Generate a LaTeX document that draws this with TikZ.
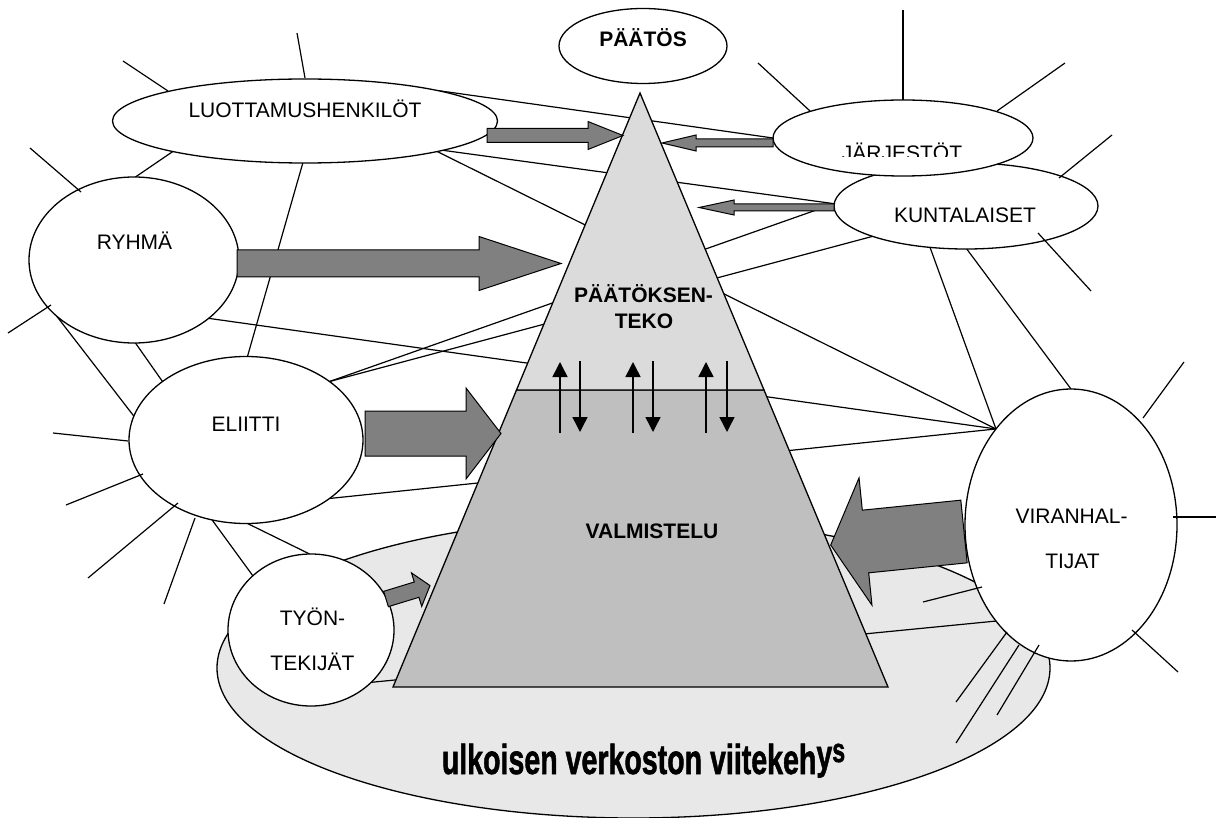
\documentclass[tikz,border=0pt]{standalone}
\usepackage{fontspec}
\setmainfont{Liberation Sans}
\newfontfamily\framefont{Liberation Sans}[BoldFeatures={FakeBold=1.5}]
\usetikzlibrary{shapes.geometric,arrows.meta}
\definecolor{groundgray}{gray}{0.91}
\definecolor{pyrlight}{gray}{0.86}
\definecolor{pyrdark}{gray}{0.75}
\definecolor{arrowgray}{gray}{0.5}
\pgfdeclarelayer{ground}
\pgfdeclarelayer{links}
\pgfdeclarelayer{pyramid}
\pgfsetlayers{ground,links,pyramid,main}

% block arrow: start point, direction angle, total length,
% half shaft width, half head width, head length
\newcommand\flowarrow[6]{%
  \draw[flowarr, shift={#1}, rotate=#2]
    (0,-#4) -- ({#3-#6},-#4) -- ({#3-#6},-#5) -- (#3,0)
    -- ({#3-#6},#5) -- ({#3-#6},#4) -- (0,#4) -- cycle;}

\begin{document}
\begin{tikzpicture}[x=1pt,y=-1pt,
  blob/.style={ellipse,draw,fill=white,line width=1.3pt,inner sep=0pt,outer sep=0pt},
  lbl/.style={font=\fontsize{21}{25}\selectfont,inner sep=0pt,anchor=base},
  lblb/.style={font=\fontsize{21}{25}\selectfont\bfseries,inner sep=0pt,anchor=base},
  link/.style={line width=1.2pt},
  spoke/.style={line width=1.2pt},
  flowarr/.style={draw=black,fill=arrowgray,line width=1pt,line join=miter},
  updown/.style={line width=1.5pt,-{Triangle[width=15pt,length=15pt]}},
]
\useasboundingbox (0,0) rectangle (1218,818);

% the outer network frame
\begin{pgfonlayer}{ground}
  \node[blob, fill=groundgray, minimum width=833pt, minimum height=300pt] (frame) at (633.5,668) {};
\end{pgfonlayer}

% actors
\node[blob, minimum width=168pt, minimum height=75pt]  (decision)  at (643,46)   {};
\node[blob, minimum width=385pt, minimum height=84pt]  (trustees)  at (305,121)  {};
\node[blob, minimum width=210pt, minimum height=166pt] (group)     at (134,260)  {};
\node[blob, minimum width=234pt, minimum height=167pt] (elite)     at (246,440)  {};
\node[blob, minimum width=166pt, minimum height=152pt] (workers)   at (311,630)  {};
\node[blob, minimum width=264pt, minimum height=86pt]  (residents) at (966,206)  {};
\node[blob, minimum width=260pt, minimum height=76pt]  (orgs)      at (903,138)  {};
\node[blob, minimum width=212pt, minimum height=272pt] (officials) at (1071,525) {};

% network links between the actors (behind the pyramid)
\begin{pgfonlayer}{links}
  \draw[link] (trustees.13)  -- (orgs.180);
  \draw[link] (trustees.-12) -- (residents.179);
  \draw[link] (trustees.-13) -- (officials.128);
  \draw[link] (trustees.193) -- (group.89);
  \draw[link] (trustees.267) -- (elite.89);
  \draw[link] (group.216)    -- (elite.168);
  \draw[link] (group.271)    -- (elite.145);
  \draw[link] (group.-38)    -- (officials.128);
  \draw[link] (elite.35)     -- (residents.179);
  \draw[link] (elite.35)     -- (residents.198);
  \draw[link] (elite.-35)    -- (officials.128);
  \draw[link] (elite.247)    -- (workers.137);
  \draw[link] (elite.271)    -- (workers.91);
  \draw[link] (workers.-41)  -- (officials.232);
  \draw[link] (residents.229) -- (officials.128);
  \draw[link] (residents.271) -- (officials.90);
\end{pgfonlayer}

% the decision pyramid
\begin{pgfonlayer}{pyramid}
  \coordinate (apex) at (640,93);
  \coordinate (midL) at (516.5,390);
  \coordinate (midR) at (764,390);
  \coordinate (baseL) at (393,687);
  \coordinate (baseR) at (888,687);
  \filldraw[fill=pyrdark, line width=1.3pt, line join=miter] (midL) -- (midR) -- (baseR) -- (baseL) -- cycle;
  \filldraw[fill=pyrlight, line width=1.3pt, line join=miter] (apex) -- (midR) -- (midL) -- cycle;
\end{pgfonlayer}

% loose ties of each actor
\draw[spoke] ([shift={(-8,-88)}]trustees.center)   -- ([shift={(0,-43)}]trustees.center);
\draw[spoke] ([shift={(-182,-60)}]trustees.center) -- ([shift={(-137,-30)}]trustees.center);
\draw[spoke] ([shift={(0,-128)}]orgs.center)       -- ([shift={(0,-38)}]orgs.center);
\draw[spoke] ([shift={(-145,-75)}]orgs.center)     -- ([shift={(-93,-27)}]orgs.center);
\draw[spoke] ([shift={(162,-75)}]orgs.center)      -- ([shift={(94,-27)}]orgs.center);
\draw[spoke] ([shift={(146,-71)}]residents.center) -- ([shift={(93,-28)}]residents.center);
\draw[spoke] ([shift={(125,85)}]residents.center)  -- ([shift={(72,27)}]residents.center);
\draw[spoke] ([shift={(-104,-112)}]group.center)   -- ([shift={(-53,-68)}]group.center);
\draw[spoke] ([shift={(-126,73)}]group.center)     -- ([shift={(-83,45)}]group.center);
\draw[spoke] ([shift={(-193,-7)}]elite.center)     -- ([shift={(-118,1)}]elite.center);
\draw[spoke] ([shift={(-180,65)}]elite.center)     -- ([shift={(-103,34)}]elite.center);
\draw[spoke] ([shift={(-158,138)}]elite.center)    -- ([shift={(-68,63)}]elite.center);
\draw[spoke] ([shift={(-82,164)}]elite.center)     -- ([shift={(-51,78)}]elite.center);
\draw[spoke] ([shift={(113,-163)}]officials.center) -- ([shift={(72,-107)}]officials.center);
\draw[spoke] ([shift={(145,-8)}]officials.center)   -- ([shift={(102,-8)}]officials.center);
\draw[spoke] ([shift={(107,147)}]officials.center)  -- ([shift={(61,105)}]officials.center);
\draw[spoke] ([shift={(-115,177)}]officials.center) -- ([shift={(-64,107)}]officials.center);
\draw[spoke] ([shift={(-115,218)}]officials.center) -- ([shift={(-52,120)}]officials.center);
\draw[spoke] ([shift={(-74,190)}]officials.center)  -- ([shift={(-32,120)}]officials.center);
\draw[spoke] ([shift={(-148,77)}]officials.center)  -- ([shift={(-89,62)}]officials.center);

% influence arrows towards the pyramid
\flowarrow{(487,135.5)}{0}{136}{7}{14}{35}
\flowarrow{(773,143)}{180}{111}{4}{8}{34}
\flowarrow{(834,207.5)}{180}{135}{3.5}{7.5}{35}
\flowarrow{(237,263.5)}{0}{324}{13.5}{27}{82}
\flowarrow{(365,433.5)}{0}{136}{22.5}{45.5}{35}
\flowarrow{(386,599)}{17}{46}{8}{17.5}{14}
\flowarrow{(964,531.5)}{185.8}{134}{31.5}{64}{35}

% exchange between preparation and decision making
\draw[updown] (560,433) -- (560,362);
\draw[updown] (580,361) -- (580,432);
\draw[updown] (633,433) -- (633,362);
\draw[updown] (653,361) -- (653,432);
\draw[updown] (706,433) -- (706,362);
\draw[updown] (727,361) -- (727,432);

% labels
\node[lblb] (decisionT)  at (643,47)    {PÄÄTÖS};
\node[lbl]  (trusteesT)  at (305,118)   {LUOTTAMUSHENKILÖT};
\node[lbl]  (groupT)     at (134.5,250) {RYHMÄ};
\node[lbl]  (eliteT)     at (246,431)   {ELIITTI};
\node[lbl]  (workersT1)  at (312.5,625) {TYÖN-};
\node[lbl]  (workersT2)  at (312.5,670) {TEKIJÄT};
\node[lbl]  (residentsT) at (965,223)   {KUNTALAISET};
\begin{scope}
  \clip (780,95) rectangle (1030,157);
  \node[lbl] (orgsT) at (902,161) {JÄRJESTÖT};
\end{scope}
\node[lbl]  (officialsT1) at (1071.5,523) {VIRANHAL-};
\node[lbl]  (officialsT2) at (1072.5,568) {TIJAT};
\node[lblb] (decmakT1)    at (643.5,302)  {PÄÄTÖKSEN-};
\node[lblb] (decmakT2)    at (644,328)    {TEKO};
\node[lblb] (prepT)       at (652,538)    {VALMISTELU};
\node[font=\framefont\bfseries\fontsize{42}{42}\selectfont, inner sep=0pt, anchor=base] (frameT) at (643.5,774)
  {\scalebox{0.68}[1]{ulkoisen verkoston viitekeh\raisebox{5pt}{y}\raisebox{12pt}{\fontsize{34}{34}\selectfont s}}};
\end{tikzpicture}
\end{document}
